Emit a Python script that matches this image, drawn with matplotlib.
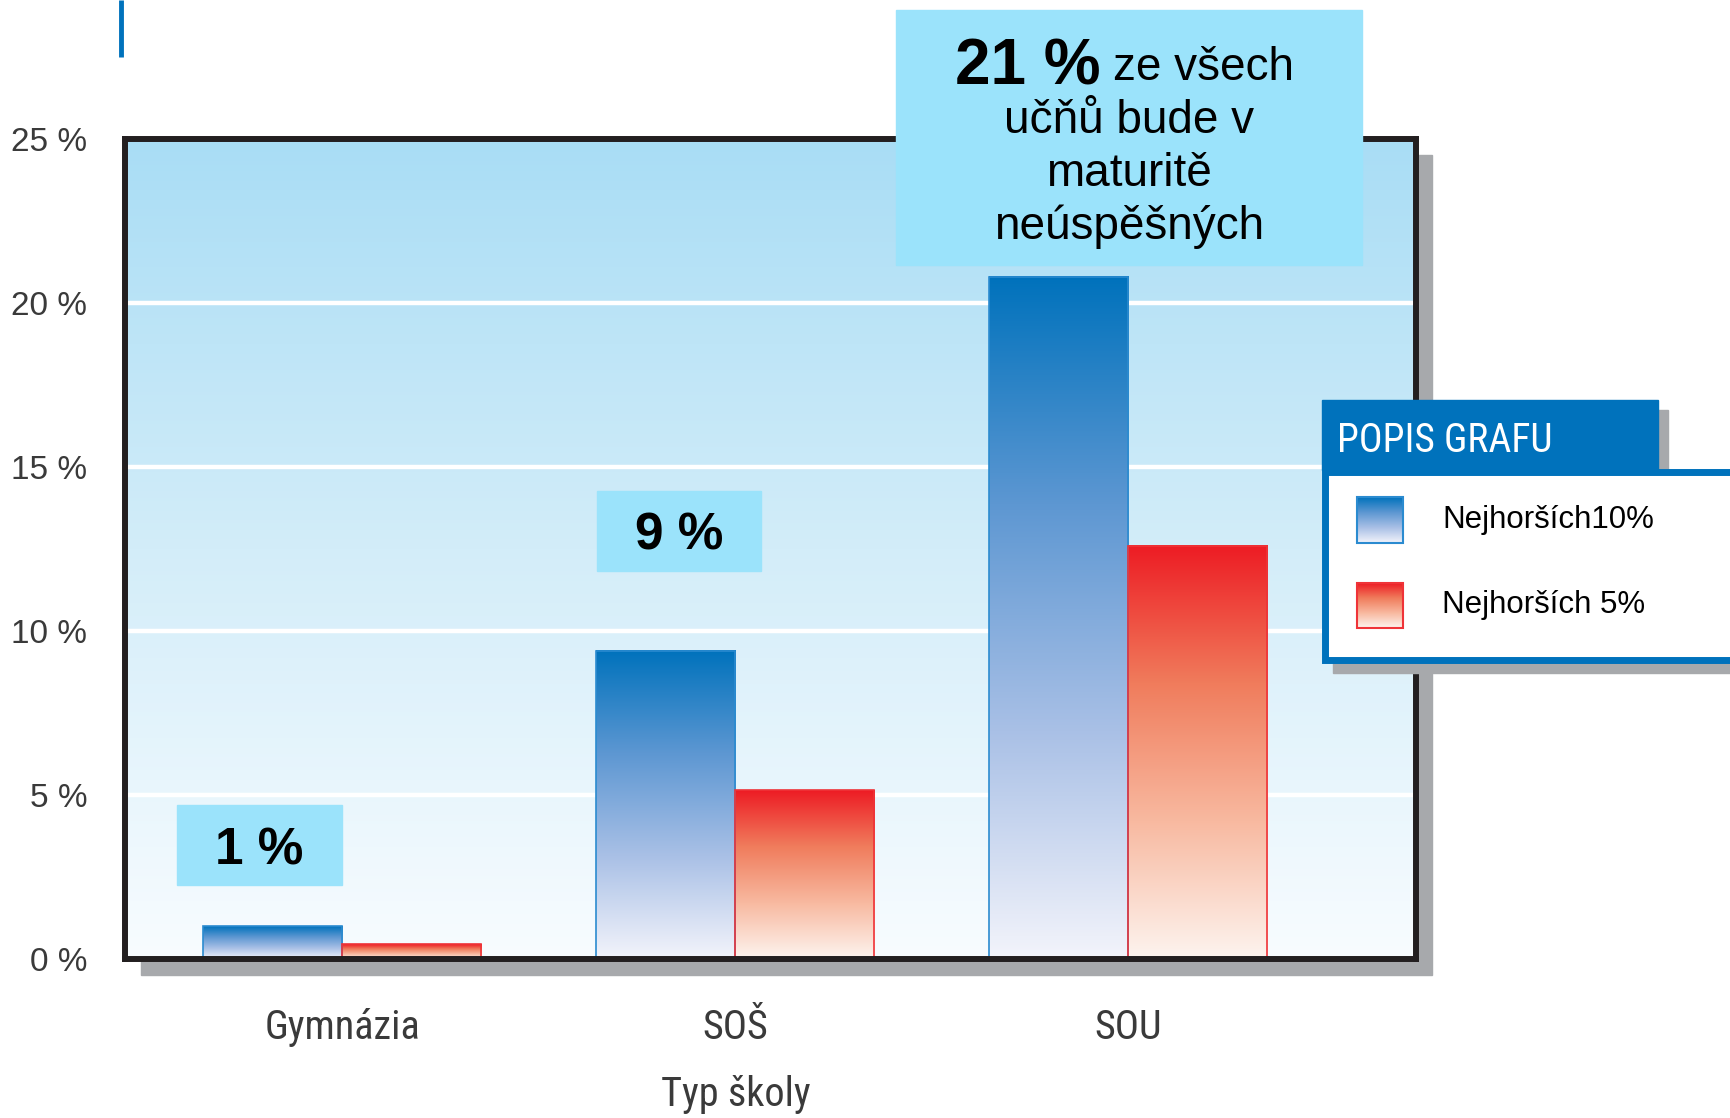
import matplotlib.pyplot as plt
import numpy as np
from matplotlib import font_manager as fm
from matplotlib.colors import LinearSegmentedColormap
from matplotlib.patches import Rectangle

# data
categories = ["Gymnázia", "SOŠ", "SOU"]
worst_10 = [1.0, 9.4, 20.8]
worst_5 = [0.45, 5.15, 12.6]
series_names = ["Nejhorších10%", "Nejhorších 5%"]
share_labels = ["1 %", "9 %", "21 %"]
yticks = [0, 5, 10, 15, 20, 25]
ytick_labels = [f"{v} %" for v in yticks]
x_label = "Typ školy"
legend_title = "POPIS GRAFU"
note_rest = ["ze všech", "učňů bude v", "maturitě", "neúspěšných"]

W, H = 1731, 1118
SANS = ["Liberation Sans", "DejaVu Sans"]


def narrow_font():
    # pick a condensed face if one is installed
    for fam in ("Liberation Sans Narrow", "Roboto Condensed",
                "DejaVu Sans Condensed"):
        try:
            fm.findfont(fm.FontProperties(family=fam),
                        fallback_to_default=False)
            return dict(family=fam)
        except ValueError:
            pass
    path = fm.findfont(fm.FontProperties(family="DejaVu Sans",
                                         stretch="condensed"))
    if "Condensed" in path:
        return dict(family="DejaVu Sans", fontstretch="condensed")
    return dict(family="Roboto")


NARROW = narrow_font()
GREY_TXT = "#3a3a3a"
CYAN = "#9be3fb"
BLUE = "#0072bc"

blue_cmap = LinearSegmentedColormap.from_list(
    "blue", ["#f3f4fb", "#a9c0e6", "#5d97d2", "#0072bc"])
red_cmap = LinearSegmentedColormap.from_list(
    "red", ["#fdf4ef", "#f8b9a0", "#f07c5c", "#ed1c24"])
bg_cmap = LinearSegmentedColormap.from_list(
    "bg", ["#f8fcff", "#d3edf9", "#a9ddf5"])
grad = np.linspace(0, 1, 256).reshape(-1, 1)


def fig_box(x0, y0, x1, y1):
    # pixel box (origin top-left) -> figure fraction rect
    return [x0 / W, 1 - y1 / H, (x1 - x0) / W, (y1 - y0) / H]


fig = plt.figure(figsize=(W / 100, H / 100), dpi=100)

ax_rect = fig_box(125, 139, 1416, 959)
shadow = 16
fig.patches.append(
    Rectangle(
        (ax_rect[0] + shadow / W, ax_rect[1] - shadow / H),
        ax_rect[2], ax_rect[3],
        transform=fig.transFigure, color="#a7a9ac", zorder=0,
    )
)
ax = fig.add_axes(ax_rect, zorder=1)

# background gradient
ax.imshow(grad, cmap=bg_cmap, origin="lower", aspect="auto",
          extent=[0, 1, 0, 1], transform=ax.transAxes, zorder=0)
for v in yticks[1:-1]:
    ax.axhline(v, color="white", lw=3.2, zorder=1)

x = np.arange(len(categories))
width = 0.354
bars_10 = ax.bar(x - width / 2, worst_10, width, facecolor="none",
                 edgecolor="#2b8bd0", lw=1.2, zorder=3)
bars_5 = ax.bar(x + width / 2, worst_5, width, facecolor="none",
                edgecolor="#ef3338", lw=1.2, zorder=3)

for bars, cmap in ((bars_10, blue_cmap), (bars_5, red_cmap)):
    for p in bars:
        x0, h = p.get_x(), p.get_height()
        ax.imshow(grad, cmap=cmap, origin="lower", aspect="auto",
                  extent=[x0, x0 + p.get_width(), 0, h], zorder=2)

ax.set_xlim(-0.553, 2.733)
ax.set_ylim(0, 25)

for s in ax.spines.values():
    s.set_linewidth(4.3)
    s.set_color("#231f20")
    s.set_zorder(4)

ax.set_yticks(yticks)
ax.set_yticklabels(ytick_labels, fontsize=24, color=GREY_TXT, family=SANS)
ax.set_xticks(x)
ax.set_xticklabels(categories, fontsize=29, color=GREY_TXT, **NARROW)
ax.tick_params(axis="y", length=0, pad=27)
ax.tick_params(axis="x", length=0, pad=35)
ax.set_xlabel(x_label, fontsize=29, color=GREY_TXT, va="center", **NARROW)
ax.xaxis.set_label_coords(0.4735, -0.1655)

# callout boxes
boxes = [(-0.421, 2.25, 0.0, 4.68), (0.649, 11.84, 1.067, 14.27)]
for (bx0, by0, bx1, by1), lab in zip(boxes, share_labels[:2]):
    ax.add_patch(Rectangle((bx0, by0), bx1 - bx0, by1 - by0, color=CYAN,
                           zorder=6, clip_on=False))
    ax.text((bx0 + bx1) / 2, (by0 + by1) / 2 - 0.16, lab, ha="center",
            va="center", family=SANS, fontsize=37, fontweight="bold",
            zorder=7)

ax.add_patch(Rectangle((1.409, 21.16), 2.596 - 1.409, 28.94 - 21.16,
                       color=CYAN, zorder=6, clip_on=False))
ax.text(1.93, 27.19, share_labels[2], ha="right", va="center",
        family=SANS, fontsize=46, fontweight="bold", zorder=7,
        clip_on=False)
ax.text(1.962, 27.15, note_rest[0], ha="left", va="center", family=SANS,
        fontsize=33, zorder=7, clip_on=False)
for yy, line in zip([25.54, 23.92, 22.31], note_rest[1:]):
    ax.text(2.003, yy, line, ha="center", va="center", family=SANS,
            fontsize=33, zorder=7, clip_on=False)

# overlay in pixel coords for legend and title rule
ov = fig.add_axes([0, 0, 1, 1], zorder=10)
ov.axis("off")
ov.plot([121, 121], [0, 57], color=BLUE, lw=3.5, solid_capstyle="butt")

ov.add_patch(Rectangle((1332, 410), 336, 70, color="#a7a9ac"))
ov.add_patch(Rectangle((1333, 478), 420, 195, color="#a7a9ac"))
ov.add_patch(Rectangle((1322, 400), 336, 70, color=BLUE))
ov.add_patch(Rectangle((1325.5, 471.5), 420, 188, facecolor="white",
                       edgecolor=BLUE, lw=5))
ov.text(1337, 441, legend_title, ha="left", va="center", fontsize=28.5,
        color="white", **NARROW)

for (py0, py1), name, cmap, ec in zip(
        [(497, 543), (583, 628)], series_names,
        [blue_cmap, red_cmap], ["#2b8bd0", "#ef3338"]):
    ov.imshow(grad, cmap=cmap, origin="lower", aspect="auto",
              extent=[1357, 1403, py1, py0], zorder=3)
    ov.add_patch(Rectangle((1357, py0), 46, py1 - py0, facecolor="none",
                           edgecolor=ec, lw=1.5, zorder=4))
    ov.text(1442, (py0 + py1) / 2, name, ha="left", va="center",
            family=SANS, fontsize=22.5, zorder=4)

ov.set_xlim(0, W)
ov.set_ylim(H, 0)

fig.savefig("out.png", dpi=100)
